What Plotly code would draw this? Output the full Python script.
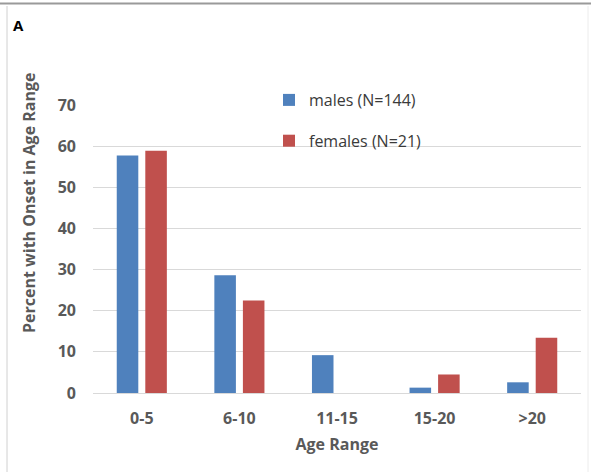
import plotly.graph_objects as go

categories = ["0-5", "6-10", "11-15", "15-20", ">20"]
males = [57.7, 28.6, 9.2, 1.3, 2.6]
females = [58.9, 22.5, 0, 4.5, 13.4]
male_name = "males (N=144)"
female_name = "females (N=21)"
y_ticks = [0, 10, 20, 30, 40, 50, 60, 70]

FONT = "Open Sans, DejaVu Sans, sans-serif"
TXT = "#595959"

fig = go.Figure()
fig.add_trace(go.Bar(x=categories, y=males, name=male_name, legendgroup="m",
                     marker=dict(color="#4F81BD", line=dict(width=0))))
fig.add_trace(go.Bar(x=categories, y=females, name=female_name, legendgroup="f",
                     marker=dict(color="#C0504D", line=dict(width=0))))

W, H = 591, 472
L, R, T, B = 93, 10, 105, 79
pw, ph = W - L - R, H - T - B

def px(xp):
    return (xp - L) / pw

def py(yp):
    return (H - B - yp) / ph

fig.update_layout(
    width=W, height=H,
    margin=dict(l=L, r=R, t=T, b=B),
    paper_bgcolor="white", plot_bgcolor="white",
    barmode="group", bargap=0.415, bargroupgap=0.245,
    font=dict(family=FONT, size=16, color=TXT),
    showlegend=True,
    legend=dict(x=px(269), y=py(83), xanchor="left", yanchor="top",
                bgcolor="rgba(0,0,0,0)", tracegroupgap=17,
                font=dict(size=16, color="#3a3a3a", family=FONT),
                itemwidth=30),
    xaxis=dict(showgrid=False, showline=False, ticks="", ticklabelstandoff=14,
               tickfont=dict(size=16, color=TXT, family=FONT),
               tickprefix="<b>", ticksuffix="</b>",
               title=dict(text="<b>Age Range</b>", font=dict(size=16, color=TXT, family=FONT), standoff=10)),
    yaxis=dict(range=[0, 70], tickvals=y_ticks,
               ticktext=["<b>%d</b>" % v for v in y_ticks],
               showgrid=True, gridcolor="#d9d9d9",
               gridwidth=1, zeroline=True, zerolinecolor="#d9d9d9", zerolinewidth=1,
               showline=False, ticks="", ticklabelstandoff=16,
               tickfont=dict(size=16, color=TXT, family=FONT)),
    shapes=[
        dict(type="line", xref="paper", yref="paper", x0=px(0), x1=px(W), y0=py(3.5), y1=py(3.5),
             line=dict(color="#9a9a9a", width=2)),
        dict(type="line", xref="paper", yref="paper", x0=px(7), x1=px(7), y0=py(6), y1=py(H),
             line=dict(color="#d0d0d0", width=1)),
        dict(type="line", xref="paper", yref="paper", x0=px(588), x1=px(588), y0=py(6), y1=py(H),
             line=dict(color="#ececec", width=1)),
    ],
    annotations=[
        dict(text="<b>A</b>", xref="paper", yref="paper", x=px(11), y=py(25),
             xanchor="left", yanchor="middle", showarrow=False,
             font=dict(size=15, color="#000000", family=FONT)),
        dict(text="<b>Percent with Onset in Age Range</b>", xref="paper", yref="paper",
             x=px(29), y=py(203), xanchor="center", yanchor="middle", textangle=-90,
             showarrow=False, font=dict(size=16, color=TXT, family=FONT)),
    ],
)

fig.write_html("out.html", config={"displayModeBar": False},
               post_script="document.body.style.margin='0';")
